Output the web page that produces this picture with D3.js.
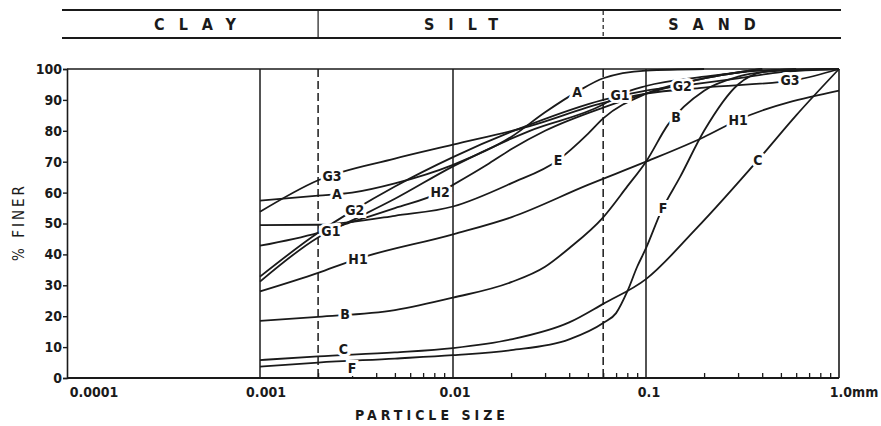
<!DOCTYPE html>
<html><head><meta charset="utf-8">
<script src="https://cdn.jsdelivr.net/npm/d3@7"></script>
<style>
body{margin:0;background:#fff}
svg{display:block}
text{font-family:"Liberation Sans Narrow","DejaVu Sans Condensed","Liberation Sans",Arial,sans-serif;font-weight:bold;fill:#1a1a1a}
</style>
</head><body><svg id="c" width="881" height="426"></svg>
<script>
// ---------- data ----------
const zoneNames = ["CLAY", "SILT", "SAND"];
const zoneBounds = [0.0001, 0.002, 0.06, 1.0];
const xTickValues = [0.0001, 0.001, 0.01, 0.1, 1.0];
const xTickLabels = ["0.0001", "0.001", "0.01", "0.1", "1.0mm"];
const yTickValues = [0, 10, 20, 30, 40, 50, 60, 70, 80, 90, 100];
const yTickLabels = ["0", "10", "20", "30", "40", "50", "60", "70", "80", "90", "100"];
const solidGridSizes = [0.001, 0.01, 0.1];
const dashedGridSizes = [0.002, 0.06];

// particle size (mm), percent finer
const curveA  = [[0.001,57.4],[0.002,59],[0.003,60],[0.005,63],[0.01,69],[0.02,78],[0.03,86],[0.045,93],[0.06,97],[0.1,99.5],[0.2,100]];
const curveG3 = [[0.001,53.8],[0.002,64],[0.005,71],[0.01,75.5],[0.025,81.5],[0.06,89],[0.1,92],[0.2,94],[0.6,96.5],[1.0,100]];
const curveG2 = [[0.001,32.8],[0.002,47],[0.003,54],[0.005,62],[0.01,71.5],[0.025,82],[0.06,90],[0.1,93],[0.15,94.5],[0.3,97],[0.5,99],[1.0,100]];
const curveG1 = [[0.001,31.2],[0.002,45.5],[0.003,51],[0.005,58],[0.01,68.5],[0.025,80],[0.06,88.5],[0.075,92],[0.1,94.5],[0.2,97.5],[0.4,99.5],[1.0,100]];
const curveH2 = [[0.001,42.8],[0.002,47],[0.003,50.5],[0.005,55],[0.0085,60],[0.01,62.5],[0.015,69],[0.02,74],[0.03,80],[0.06,87.5],[0.1,92],[0.2,97],[0.4,100]];
const curveE  = [[0.001,49.5],[0.002,49.6],[0.003,50.5],[0.005,52.5],[0.01,55.5],[0.02,63],[0.035,70.5],[0.05,79],[0.06,84],[0.1,92],[0.2,97],[0.4,100]];
const curveH1 = [[0.001,28],[0.002,34],[0.003,38],[0.01,46.5],[0.02,52],[0.05,62.5],[0.1,70],[0.2,78],[0.3,83.5],[1.0,93]];
const curveB  = [[0.001,18.5],[0.002,19.8],[0.005,22],[0.01,26],[0.02,31],[0.03,36],[0.04,42],[0.06,52],[0.08,62],[0.1,70],[0.13,82],[0.2,93],[0.3,97.5],[0.5,99.5],[1.0,100]];
const curveC  = [[0.001,5.8],[0.002,7],[0.005,8.3],[0.01,9.7],[0.02,12.5],[0.04,18],[0.06,24],[0.1,32],[0.18,48],[0.38,70.5],[0.6,85],[1.0,100]];
const curveF  = [[0.001,3.7],[0.002,5],[0.005,6.3],[0.01,7.4],[0.02,9],[0.04,12.5],[0.06,17.8],[0.07,21],[0.08,28],[0.09,36],[0.1,42],[0.12,54],[0.15,65],[0.2,80],[0.3,95],[0.4,99],[0.6,100]];

const curveNames  = ["A","G3","G2","G1","H2","E","H1","B","C","F"];
const curveData   = [curveA,curveG3,curveG2,curveG1,curveH2,curveE,curveH1,curveB,curveC,curveF];
// particle sizes at which each curve carries its name
const labelSizes  = [[0.0025,0.044],[0.00236,0.557],[0.0031,0.154],[0.00233,0.0733],[0.00857],[0.035],[0.00322,0.3],[0.00276,0.143],[0.0027,0.38],[0.00293,0.1225]];

// ---------- drawing ----------
const svg = d3.select("#c");
const x = d3.scaleLog().domain([0.0001, 1]).range([67, 839]);
const y = d3.scaleLinear().domain([0, 100]).range([378, 69]);
const ink = "#1a1a1a";

// label nudges (pixels) so crowded names do not collide
const labelNudge = {"C0":[0,-6],"F0":[2,7]};

// header band
const hx0 = 62, hx1 = 841;
svg.append("line").attr("x1",hx0).attr("x2",hx1).attr("y1",10).attr("y2",10).attr("stroke",ink).attr("stroke-width",2);
svg.append("line").attr("x1",hx0).attr("x2",hx1).attr("y1",38).attr("y2",38).attr("stroke",ink).attr("stroke-width",2);
svg.append("line").attr("x1",x(0.002)).attr("x2",x(0.002)).attr("y1",11).attr("y2",37).attr("stroke",ink).attr("stroke-width",1.2);
svg.append("line").attr("x1",x(0.06)).attr("x2",x(0.06)).attr("y1",11).attr("y2",37).attr("stroke",ink).attr("stroke-width",1.2).attr("stroke-dasharray","4,3");
const zoneCenters = [195, 461, 712];
zoneNames.forEach((n,i)=>{
  svg.append("text").attr("x", zoneCenters[i] + 7).attr("y", 30)
    .attr("text-anchor","middle").style("font-size","16px").style("letter-spacing","14px").text(n);
});

// frame
svg.append("line").attr("x1",x(0.0001)).attr("x2",x(1)).attr("y1",y(100)).attr("y2",y(100)).attr("stroke",ink).attr("stroke-width",1.6);
svg.append("line").attr("x1",x(1)).attr("x2",x(1)).attr("y1",y(100)).attr("y2",y(0)).attr("stroke",ink).attr("stroke-width",1.6);

// vertical grid
solidGridSizes.forEach(s=>{
  svg.append("line").attr("x1",x(s)).attr("x2",x(s)).attr("y1",y(100)).attr("y2",y(0)).attr("stroke",ink).attr("stroke-width",1.5);
});
dashedGridSizes.forEach(s=>{
  svg.append("line").attr("x1",x(s)).attr("x2",x(s)).attr("y1",y(100)).attr("y2",y(0)).attr("stroke",ink).attr("stroke-width",1.5).attr("stroke-dasharray","8,4");
});

// y axis
const yAxis = d3.axisLeft(y).tickValues(yTickValues).tickFormat((d,i)=>yTickLabels[i]).tickSize(4).tickPadding(1);
const gy = svg.append("g").attr("transform",`translate(${x(0.0001)},0)`).call(yAxis);
gy.select(".domain").attr("stroke",ink).attr("stroke-width",1.6);
gy.selectAll(".tick line").attr("stroke",ink).attr("stroke-width",1.4);
gy.selectAll(".tick text").style("font-size","14px").attr("fill",ink).style("font-family","'Liberation Sans Narrow','DejaVu Sans Condensed',sans-serif");

// x axis with minor ticks
const minor = [];
[0.001,0.01,0.1].forEach(dec=>{ for(let k=2;k<=9;k++) minor.push(dec*k); });
const xAxis = d3.axisBottom(x).tickValues(minor).tickSize(-5).tickFormat("");
const gx = svg.append("g").attr("transform",`translate(0,${y(0)})`).call(xAxis);
gx.select(".domain").remove();
gx.selectAll(".tick line").attr("stroke",ink).attr("stroke-width",1.3);
svg.append("line").attr("x1",x(0.0001)).attr("x2",x(1)).attr("y1",y(0)).attr("y2",y(0)).attr("stroke",ink).attr("stroke-width",1.8);

const xLabelOffsets = [27, 6, 2, 3, 15];
xTickValues.forEach((v,i)=>{
  svg.append("text").attr("x", x(v)+xLabelOffsets[i]).attr("y", 397).attr("text-anchor","middle")
    .style("font-size","14px").text(xTickLabels[i]);
});

svg.append("text").attr("x",432).attr("y",420).attr("text-anchor","middle").style("font-size","14px").style("letter-spacing","4px").text("PARTICLE SIZE");
svg.append("text").attr("transform","translate(24,222) rotate(-90)").attr("text-anchor","middle").style("font-size","15px").style("letter-spacing","3px").style("font-weight","normal").text("% FINER");

// curves
const line = d3.line().x(d=>x(d[0])).y(d=>y(d[1])).curve(d3.curveMonotoneX);
curveData.forEach(c=>{
  svg.append("path").attr("d",line(c)).attr("fill","none").attr("stroke",ink).attr("stroke-width",1.8);
});

function interp(c, s){
  const ls = Math.log10(s);
  for(let i=0;i<c.length-1;i++){
    const a=Math.log10(c[i][0]), b=Math.log10(c[i+1][0]);
    if(ls>=a && ls<=b){ const t=(ls-a)/(b-a); return c[i][1]+t*(c[i+1][1]-c[i][1]); }
  }
  return c[c.length-1][1];
}
curveNames.forEach((n,i)=>{
  labelSizes[i].forEach((s,j)=>{
    const nd = labelNudge[n+j] || [0,0];
    svg.append("text").attr("x",x(s)+nd[0]).attr("y",y(interp(curveData[i],s))+5+nd[1])
      .attr("text-anchor","middle").style("font-size","14px")
      .attr("stroke","#fff").attr("stroke-width",6).style("paint-order","stroke").text(n);
  });
});
</script></body></html>
